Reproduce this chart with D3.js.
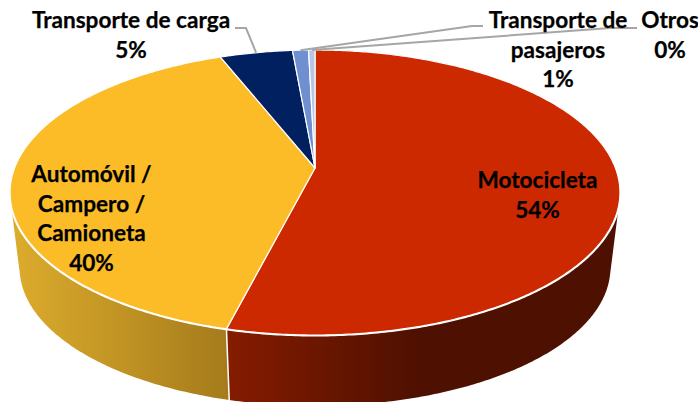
<!DOCTYPE html>
<html>
<head>
<meta charset="utf-8">
<script src="https://cdnjs.cloudflare.com/ajax/libs/d3/7.8.5/d3.min.js"></script>
<style>
  html, body { margin: 0; background: #fff; }
  svg { display: block; }
  text { font-family: Lato, "Open Sans", sans-serif; font-weight: 700; font-size: 22.6px; fill: #000; stroke: #000; stroke-width: 0.25px; text-anchor: middle; }
</style>
</head>
<body>
<div id="chart"></div>
<script>
// values, in drawing order (clockwise from 12 o'clock)
const categories = ["Motocicleta", "Automóvil / Campero / Camioneta", "Transporte de carga", "Transporte de pasajeros", "Otros"]
const shares = [53.95, 40.1, 4.55, 1.0, 0.4]
const colors = ["#cc2900", "#fbbc28", "#002060", "#6f8fd0", "#b4c7e7"]

// label placement, one entry per category
const labelLines = [["Motocicleta"], ["Automóvil /", "Campero /", "Camioneta"], ["Transporte de carga"], ["Transporte de", "pasajeros"], ["Otros"]]
const labelAnchors = [[537.5, 188], [91.5, 182], [131, 28], [558, 28], [670, 28]]
const labelStep = 29.7
const leaderElbows = [null, null, [[246, 28], [235, 28]], [[472, 26], [483, 26]], [[610, 28], [637, 28]]]

const width = 698
const height = 402

// the disc: a tilted circle under perspective
const cx = 315, cy = 168
const k = -0.172, sx = 300.4, sy = 138.3
// extruded rim shrinks toward a far vanishing point
const vanishY = 2600, depth = 0.9687

const rim = a => {
  const c = Math.sin(a), s = -Math.cos(a), w = 1 + k * s
  return [cx + sx * c / w, cy + sy * s / w]
}
const lower = ([x, y]) => [cx + (x - cx) * depth, vanishY - (vanishY - y) * depth]

const arcPoints = (a0, a1) => {
  const n = Math.max(2, Math.ceil((a1 - a0) / 0.01))
  return d3.range(n + 1).map(i => rim(a0 + (a1 - a0) * i / n))
}

const pie = d3.pie().sort(null).value(d => d)(shares)
const pct = d3.format(".0%")
const total = d3.sum(shares)
const line = d3.line()

const svg = d3.select("#chart").append("svg").attr("width", width).attr("height", height)

const defs = svg.append("defs")
const sideGradient = (id, x1, x2, from, to) => {
  const g = defs.append("linearGradient").attr("id", id)
    .attr("gradientUnits", "userSpaceOnUse")
    .attr("x1", x1).attr("x2", x2).attr("y1", 0).attr("y2", 0)
  g.append("stop").attr("offset", 0).attr("stop-color", from)
  g.append("stop").attr("offset", 1).attr("stop-color", to)
}
sideGradient("side0", 228, 420, "#851c00", "#4e1000")
sideGradient("side1", 12, 228, "#dcac2c", "#a57b1c")

// the side is swept quad by quad, all wound the same way so the
// overlaps at the tangent points do not cancel out
const sweep = d => {
  const top = arcPoints(d.startAngle, d.endAngle)
  return d3.pairs(top).map(([p, q]) => {
    const quad = [p, q, lower(q), lower(p)]
    return line(d3.polygonArea(quad) < 0 ? quad.reverse() : quad) + "Z"
  }).join("")
}

// sides first, the top face covers whatever lies behind it
svg.append("g").selectAll("path")
  .data(pie.slice(0, 2))
  .join("path")
  .attr("d", sweep)
  .attr("fill", (d, i) => `url(#side${i})`)

// seam between the two visible sides
const seam = rim(pie[0].endAngle)
svg.append("path")
  .attr("d", line([seam, lower(seam)]))
  .attr("stroke", "#fff").attr("stroke-width", 1.5)

// white rim line along the front
svg.append("path")
  .attr("d", line(arcPoints(Math.PI / 2 - 0.1, 3 * Math.PI / 2 + 0.1)))
  .attr("fill", "none").attr("stroke", "#fff").attr("stroke-width", 3)

// top face
svg.append("g").selectAll("path")
  .data(pie)
  .join("path")
  .attr("d", d => line([[cx, cy]].concat(arcPoints(d.startAngle, d.endAngle))) + "Z")
  .attr("fill", (d, i) => colors[i])
  .attr("stroke", "#fff").attr("stroke-width", 1.2).attr("stroke-linejoin", "round")

// leader lines
svg.append("g").selectAll("path")
  .data(pie.filter((d, i) => leaderElbows[i]))
  .join("path")
  .attr("d", d => line([rim((d.startAngle + d.endAngle) / 2)].concat(leaderElbows[d.index])))
  .attr("fill", "none").attr("stroke", "#a6a6a6").attr("stroke-width", 2)

// labels, the percentage comes from the share
const labels = svg.append("g").selectAll("text")
  .data(categories)
  .join("text")
  .attr("x", (d, i) => labelAnchors[i][0])
  .attr("y", (d, i) => labelAnchors[i][1])

labels.selectAll("tspan")
  .data((d, i) => labelLines[i].concat(pct(shares[i] / total)))
  .join("tspan")
  .attr("x", function () { return this.parentNode.getAttribute("x") })
  .attr("dy", (d, i) => i ? labelStep : 0)
  .text(d => d)
</script>
</body>
</html>
